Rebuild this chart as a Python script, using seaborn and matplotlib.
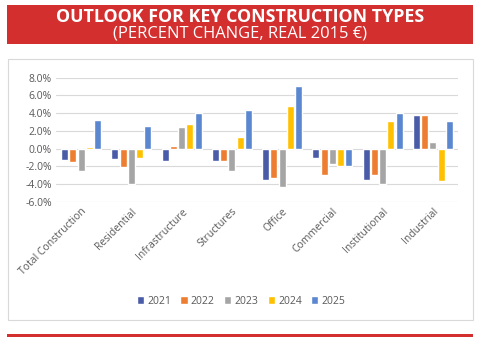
import matplotlib
matplotlib.use("Agg")
import matplotlib.pyplot as plt
import seaborn as sns
import pandas as pd
from matplotlib.patches import Rectangle
from matplotlib.ticker import FuncFormatter

categories = ["Total Construction", "Residential", "Infrastructure", "Structures",
              "Office", "Commercial", "Institutional", "Industrial"]
years = ["2021", "2022", "2023", "2024", "2025"]
v2021 = [-1.3, -1.2, -1.4, -1.4, -3.5, -1.0, -3.5, 3.8]
v2022 = [-1.5, -2.1, 0.3, -1.4, -3.3, -3.0, -3.0, 3.8]
v2023 = [-2.5, -4.0, 2.4, -2.5, -4.3, -1.7, -4.0, 0.8]
v2024 = [0.2, -1.0, 2.8, 1.3, 4.8, -2.0, 3.1, -3.6]
v2025 = [3.2, 2.5, 4.0, 4.3, 7.1, -2.0, 4.0, 3.1]
colors = ["#4A5CA8", "#ED7D31", "#A5A5A5", "#FFC000", "#5B87D0"]

rows = []
for yr, vals in zip(years, [v2021, v2022, v2023, v2024, v2025]):
    for c, v in zip(categories, vals):
        rows.append({"cat": c, "year": yr, "val": v})
df = pd.DataFrame(rows)

sns.set_style("white")
plt.rcParams["font.family"] = ["Open Sans", "DejaVu Sans"]

fig = plt.figure(figsize=(4.8, 3.43), dpi=100)
W, H = 480, 343
# title banner
fig.patches.append(Rectangle((7 / W, 1 - 44 / H), 466 / W, 39 / H, transform=fig.transFigure,
                             facecolor="#D32F2F", edgecolor="none", zorder=-2))
fig.text(0.5, 1 - 17 / H, "OUTLOOK FOR KEY CONSTRUCTION TYPES", ha="center", va="center",
         color="white", fontsize=12.8, fontweight="bold")
fig.text(0.5, 1 - 33 / H, "(PERCENT CHANGE, REAL 2015 €)", ha="center", va="center",
         color="white", fontsize=11.9)
# chart border
fig.patches.append(Rectangle((8 / W, 1 - 320 / H), 465 / W, 261 / H, transform=fig.transFigure,
                             facecolor="white", edgecolor="#D9D9D9", linewidth=0.8, zorder=-2))
# bottom red line
fig.patches.append(Rectangle((7 / W, 1 - 337 / H), 466 / W, 3 / H, transform=fig.transFigure,
                             facecolor="#D32F2F", edgecolor="none", zorder=-2))

ax = fig.add_axes([56 / W, 1 - 202 / H, (458 - 56) / W, (202 - 77.5) / H])
ax.patch.set_alpha(0)
sns.barplot(data=df, x="cat", y="val", hue="year", palette=colors, ax=ax,
            width=0.82, gap=0.15, saturation=1, legend=True, zorder=3)
ax.set_ylim(-6, 8)
ax.set_yticks([-6, -4, -2, 0, 2, 4, 6, 8])
ax.yaxis.set_major_formatter(FuncFormatter(lambda v, p: f"{v:.1f}%"))
ax.grid(axis="y", color="#D9D9D9", linewidth=0.8, zorder=0)
ax.set_axisbelow(True)
for s in ax.spines.values():
    s.set_visible(False)
ax.set_xlabel("")
ax.set_ylabel("")
ax.tick_params(axis="both", length=0, labelsize=7.5, labelcolor="#595959", pad=3)
plt.setp(ax.get_xticklabels(), rotation=45, ha="right", rotation_mode="anchor")
ax.legend(loc="center", bbox_to_anchor=(241 / W, 1 - 301 / H),
          bbox_transform=fig.transFigure, ncol=5,
          frameon=False, fontsize=7.5, handlelength=0.7, handleheight=0.7,
          handletextpad=0.3, columnspacing=0.9, labelcolor="#595959")
fig.savefig("out.png", dpi=100)
